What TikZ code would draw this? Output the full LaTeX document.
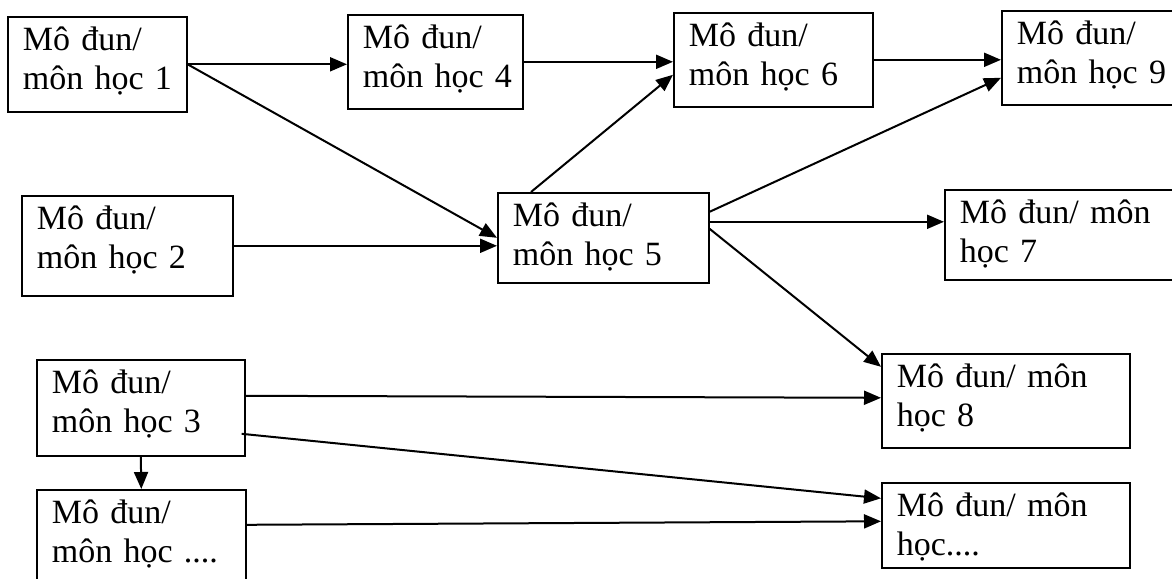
\documentclass[tikz,border=0pt]{standalone}
\usepackage{fontspec}
\setmainfont{Liberation Serif}
\usetikzlibrary{arrows.meta}
\begin{document}
\begin{tikzpicture}[x=1pt,y=-1pt,
  box/.style={draw, line width=1.6pt, anchor=north west, inner xsep=15pt, inner ysep=0pt,
    align=left, font=\fontsize{34}{39}\selectfont, text height=34pt},
  arr/.style={line width=2pt, -{Triangle[length=17pt,width=14pt]}}]
\clip (0,0) rectangle (1172,578);
\fill[white] (0,0) rectangle (1172,578);
\node[box, text width=149pt, text depth=61pt] (b1) at (7,16) {Mô~đun/\\môn~học~1};
\node[box, text width=145pt, text depth=60pt] (b4) at (347,14) {Mô~đun/\\môn~học~4};
\node[box, text width=169pt, text depth=60pt] (b6) at (673,12) {Mô~đun/\\môn~học~6};
\node[box, text width=150pt, text depth=60pt] (b9) at (1001,10) {Mô~đun/\\môn~học~9};
\node[box, text width=181pt, text depth=66pt] (b2) at (21,195) {Mô~đun/\\môn~học~2};
\node[box, text width=181pt, text depth=56pt] (b5) at (497,192) {Mô~đun/\\môn~học~5};
\node[box, text width=206pt, text depth=56pt] (b7) at (944,189) {Mô~đun/~môn\\học~7};
\node[box, text width=178pt, text depth=62pt] (b3) at (36,359) {Mô~đun/\\môn~học~3};
\node[box, text width=218pt, text depth=60pt] (b8) at (881,353) {Mô~đun/~môn\\học~8};
\node[box, text width=179pt, text depth=66pt] (bD) at (36,489) {Mô~đun/\\môn~học~....};
\node[box, text width=218pt, text depth=51pt] (bE) at (881,482) {Mô~đun/~môn\\học....};
\draw[arr] (b1.east) -- (b1.east -| b4.west);
\draw[arr] (b1.east) -- (b5.west);
\draw[arr] (b2.east) -- (b2.east -| b5.west);
\draw[arr] (b4.east) -- (b4.east -| b6.west);
\draw[arr] ([xshift=34pt]b5.north west) -- ([yshift=-15pt]b6.west);
\draw[arr] (b6.east) -- (b6.east -| b9.west);
\draw[arr] ([yshift=26pt]b5.east) -- ([yshift=-20pt]b9.west);
\draw[arr] ([yshift=16pt]b5.east) -- ([yshift=16pt]b5.east -| b7.west);
\draw[arr] ([yshift=9pt]b5.east) -- ([yshift=34pt]b8.west);
\draw[arr] ([yshift=12pt]b3.east) -- ([yshift=3pt]b8.west);
\draw[arr] ([xshift=-4pt,yshift=-26pt]b3.east) -- ([yshift=27pt]bE.west);
\draw[arr] (b3.south) -- (bD.north);
\draw[arr] ([yshift=15pt]bD.east) -- ([yshift=4pt]bE.west);
\end{tikzpicture}
\end{document}
